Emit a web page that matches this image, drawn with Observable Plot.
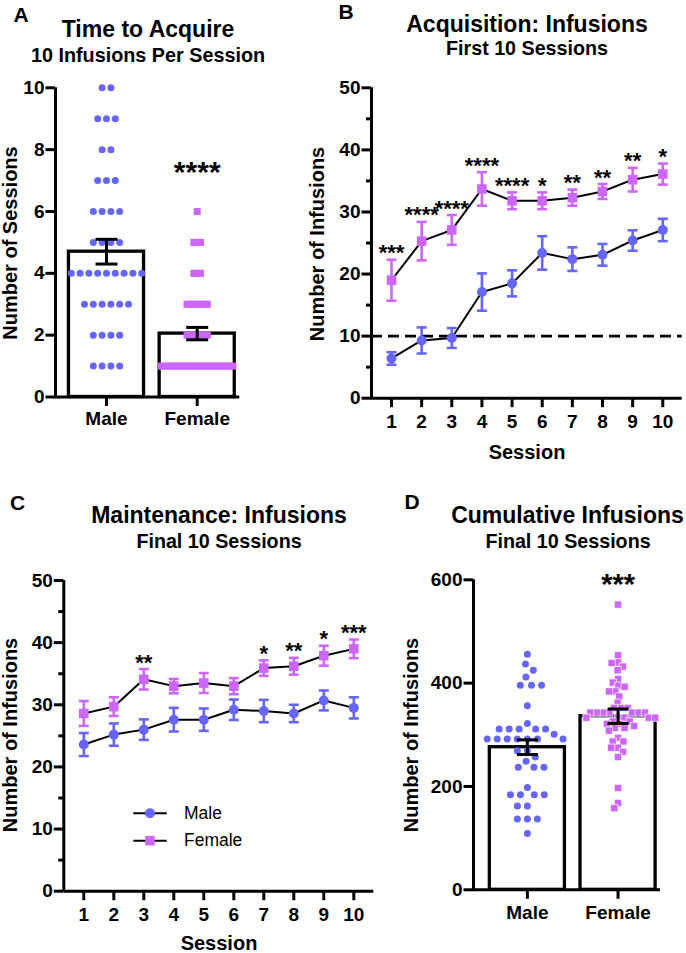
<!DOCTYPE html>
<html>
<head>
<meta charset="utf-8">
<script src="https://cdn.jsdelivr.net/npm/d3@7"></script>
<script src="https://cdn.jsdelivr.net/npm/@observablehq/plot@0.6"></script>
<style>
  html,body{margin:0;padding:0;background:#fff;}
  #root{position:relative;width:686px;height:953px;overflow:hidden;font-family:"Liberation Sans",Arial,Helvetica,sans-serif;color:#000;}
  .t{position:absolute;white-space:nowrap;line-height:1;font-weight:bold;transform:translate(-50%,-50%);}
</style>
</head>
<body>
<div id="root"></div>
<script>
// ---------------- DATA ----------------
const sexes = ["Male", "Female"];

// Panel A: sessions to acquire (10 infusions per session), individual animals
const acquireMale = [10,10, 9,9,9, 8,8, 7,7,7, 6,6,6,6, 5,5,5,5,
  4,4,4,4,4,4,4,4,4, 3,3,3,3,3,3, 2,2,2,2, 1,1,1,1];
const acquireFemale = [6, 5,5,5, 4,4,4, 3,3,3,3,3,3,3, 2,2,2,2,2,2,2,
  1,1,1,1,1,1,1,1,1,1,1,1,1,1,1,1,1,1,1,1,1,1];
const acquireMean = [4.70, 2.05];
const acquireSem = [0.40, 0.20];
const acquireSig = ["", "****"];

// Panel B: acquisition, first 10 sessions
const sessions = [1, 2, 3, 4, 5, 6, 7, 8, 9, 10];
const acqMaleMean = [6.4, 9.3, 9.7, 17.1, 18.5, 23.4, 22.4, 23.1, 25.4, 27.1];
const acqMaleSem = [1.0, 2.1, 1.6, 3.0, 2.1, 2.7, 1.9, 1.75, 1.65, 1.8];
const acqFemaleMean = [19.0, 25.3, 27.1, 33.7, 31.8, 31.8, 32.3, 33.3, 35.2, 36.1];
const acqFemaleSem = [3.3, 3.1, 2.4, 2.7, 1.35, 1.35, 1.3, 1.2, 1.9, 1.7];
const acqSig = ["***", "****", "****", "****", "****", "*", "**", "**", "**", "*"];
const acqCriterion = 10;

// Panel C: maintenance, final 10 sessions
const mntMaleMean = [23.6, 25.2, 26.0, 27.6, 27.6, 29.2, 29.0, 28.6, 30.7, 29.5];
const mntMaleSem = [1.85, 1.8, 1.65, 1.9, 1.8, 1.65, 1.8, 1.4, 1.6, 1.7];
const mntFemaleMean = [28.6, 29.7, 34.1, 33.0, 33.5, 33.0, 35.9, 36.2, 37.9, 39.0];
const mntFemaleSem = [2.0, 1.5, 1.65, 1.15, 1.6, 1.3, 1.25, 1.35, 1.6, 1.5];
const mntSig = ["", "", "**", "", "", "", "*", "**", "*", "***"];

// Panel D: cumulative infusions, final 10 sessions, individual animals
const cumMale = [456, 437, 425, 412, 396, 396, 396, 356, 322, 311, 311, 311, 311, 311,
  301, 292, 292, 292, 292, 292, 292, 292, 269, 269, 257, 249, 237, 237, 237,
  198, 184, 184, 184, 184, 162, 162, 137, 137, 137, 109];
const cumFemale = [552, 454, 440, 439, 432, 425, 408, 401, 395, 393, 384, 384, 374, 362,
  352, 352, 352, 343, 343, 343, 343, 343, 343, 343, 333, 333, 333, 333, 333,
  326, 326, 321, 321, 317, 313, 313, 308, 294, 287, 287, 275, 275, 267, 257, 197, 168, 158];
const cumMean = [276, 336];
const cumSem = [14.2, 14];
const cumSig = ["", "***"];

// ---------------- STYLE ----------------
const FONT = '"Liberation Sans", Arial, Helvetica, sans-serif';
const MALE = "#6666ff", FEMALE = "#cc66ff";
const BAR_HALF = 0.414;
const root = document.getElementById("root");
const baseStyle = {fontFamily: FONT, background: "transparent", color: "black", overflow: "visible"};

function cap(w) { return {draw(ctx) { ctx.moveTo(-w / 2, 0); ctx.lineTo(w / 2, 0); }}; }
function place(svg, left, top) {
  svg.style.position = "absolute"; svg.style.left = left + "px"; svg.style.top = top + "px";
  svg.style.maxWidth = "none";
  root.appendChild(svg);
}
function errorBars(rows, x, color, width, capW) {
  return [
    Plot.ruleX(rows, {x, y1: d => d.mean - d.sem, y2: d => d.mean + d.sem, stroke: color, strokeWidth: width}),
    Plot.dot(rows, {x, y: d => d.mean + d.sem, symbol: cap(capW), r: 2, fill: "none", stroke: color, strokeWidth: width}),
    Plot.dot(rows, {x, y: d => d.mean - d.sem, symbol: cap(capW), r: 2, fill: "none", stroke: color, strokeWidth: width})
  ];
}
function yAxis(ticks, minor) {
  const m = [Plot.axisY({ticks, tickSize: 9.5, tickPadding: 1.5, strokeWidth: 3, fontSize: 19, fontWeight: "bold", label: null})];
  if (minor) m.push(Plot.axisY({ticks: minor, tickSize: 5, tickFormat: () => "", strokeWidth: 3, label: null}));
  return m;
}
function xAxis(ticks, fmt, pad) {
  return Plot.axisX({ticks, tickFormat: fmt, tickSize: 9.5, tickPadding: pad, strokeWidth: 3, fontSize: 19, fontWeight: "bold", label: null});
}
// rows of equal values centred on the column (scatter dot plot)
function rowLayout(values, spacingPx, kx) {
  const out = [];
  for (const [v, items] of d3.group(values, d => d)) {
    items.forEach((_, j) => out.push({value: v, off: (j - (items.length - 1) / 2) * spacingPx / kx}));
  }
  return out;
}
// simple beeswarm: each point goes to the free position closest to the column centre
function swarm(values, dPx, kx, ky) {
  const order = d3.range(values.length).sort((a, b) => d3.descending(values[a], values[b]));
  const placed = [], out = [];
  for (const i of order) {
    const yi = values[i] * ky;
    const cands = [0];
    for (const p of placed) {
      const dy = Math.abs(p.y - yi);
      if (dy < dPx) { const dx = Math.sqrt(dPx * dPx - dy * dy); cands.push(p.x - dx, p.x + dx); }
    }
    cands.sort((a, b) => Math.abs(a) - Math.abs(b));
    for (const c of cands) {
      if (placed.every(p => (p.x - c) ** 2 + (p.y - yi) ** 2 >= dPx * dPx - 1e-6)) {
        placed.push({x: c, y: yi}); out.push({value: values[i], off: c / kx}); break;
      }
    }
  }
  return out;
}

// ---------------- PANEL A ----------------
{
  const W = 290, H = 450, mL = 55, mR = 50.7, mT = 87.3, mB = 53.5;
  const xDom = [0.4377, 2.4697];
  const kx = (W - mL - mR) / (xDom[1] - xDom[0]);
  const summary = sexes.map((s, i) => ({idx: i + 1, mean: acquireMean[i], sem: acquireSem[i]}));
  const male = rowLayout(acquireMale, 8.8, kx).map(d => ({...d, idx: 1}));
  const female = rowLayout(acquireFemale, 3.4, kx).map(d => ({...d, idx: 2}));
  const stars = sexes.map((s, i) => ({idx: i + 1, label: acquireSig[i], top: d3.max(i ? acquireFemale : acquireMale)})).filter(d => d.label);
  const svg = Plot.plot({
    width: W, height: H, marginLeft: mL, marginRight: mR, marginTop: mT, marginBottom: mB,
    x: {domain: xDom}, y: {domain: [0, 10]}, style: baseStyle,
    marks: [
      Plot.rect(summary, {x1: d => d.idx - BAR_HALF, x2: d => d.idx + BAR_HALF, y1: 0, y2: "mean", fill: "white", stroke: "black", strokeWidth: 3.3}),
      Plot.dot(male, {x: d => d.idx + d.off, y: "value", r: 3.5, fill: MALE}),
      Plot.dot(female, {x: d => d.idx + d.off, y: "value", r: 3.95, symbol: "square", fill: FEMALE}),
      ...errorBars(summary, "idx", "black", 3, 22),
      Plot.ruleY([0], {strokeWidth: 3}),
      Plot.ruleX([xDom[0]], {y1: 0, y2: 10, strokeWidth: 3}),
      ...yAxis([0, 2, 4, 6, 8, 10]),
      xAxis([1, 2], i => sexes[i - 1], 5),
      Plot.text(stars, {x: "idx", y: "top", text: "label", dy: -38.8, fontSize: 30, fontWeight: "bold"})
    ]
  });
  place(svg, 0, 0);
}

// ---------------- PANEL B ----------------
{
  const W = 396, H = 470, mL = 81, mR = 4.3, mT = 87.3, mB = 72.3;
  const xDom = [0.3364, 10.644];
  const male = sessions.map((s, i) => ({session: s, mean: acqMaleMean[i], sem: acqMaleSem[i]}));
  const female = sessions.map((s, i) => ({session: s, mean: acqFemaleMean[i], sem: acqFemaleSem[i], sig: acqSig[i]}));
  const svg = Plot.plot({
    width: W, height: H, marginLeft: mL, marginRight: mR, marginTop: mT, marginBottom: mB,
    x: {domain: xDom}, y: {domain: [0, 50]}, style: baseStyle,
    marks: [
      Plot.ruleY([acqCriterion], {strokeWidth: 2.6, strokeDasharray: "11,6"}),
      Plot.line(male, {x: "session", y: "mean", stroke: "black", strokeWidth: 2}),
      Plot.line(female, {x: "session", y: "mean", stroke: "black", strokeWidth: 2}),
      ...errorBars(male, "session", MALE, 2.6, 10),
      ...errorBars(female, "session", FEMALE, 2.6, 10),
      Plot.dot(male, {x: "session", y: "mean", r: 5, fill: MALE}),
      Plot.dot(female, {x: "session", y: "mean", r: 5.4, symbol: "square", fill: FEMALE}),
      Plot.text(female.filter(d => d.sig), {x: "session", y: d => d.mean + d.sem, text: "sig", dy: -6.5, fontSize: 22, fontWeight: "bold"}),
      Plot.ruleY([0], {strokeWidth: 3}),
      Plot.ruleX([xDom[0]], {y1: 0, y2: 50, strokeWidth: 3}),
      ...yAxis([0, 10, 20, 30, 40, 50], [5, 15, 25, 35, 45]),
      xAxis(sessions, d => String(d), 7)
    ]
  });
  place(svg, 290, 0);
}

// ---------------- PANEL C ----------------
{
  const W = 390, H = 483, mL = 63.3, mR = 16.7, mT = 110, mB = 62.3;
  const xDom = [0.3333, 10.6667];
  const male = sessions.map((s, i) => ({session: s, mean: mntMaleMean[i], sem: mntMaleSem[i]}));
  const female = sessions.map((s, i) => ({session: s, mean: mntFemaleMean[i], sem: mntFemaleSem[i], sig: mntSig[i]}));
  const svg = Plot.plot({
    width: W, height: H, marginLeft: mL, marginRight: mR, marginTop: mT, marginBottom: mB,
    x: {domain: xDom}, y: {domain: [0, 50]}, style: baseStyle,
    marks: [
      Plot.line(male, {x: "session", y: "mean", stroke: "black", strokeWidth: 2}),
      Plot.line(female, {x: "session", y: "mean", stroke: "black", strokeWidth: 2}),
      ...errorBars(male, "session", MALE, 2.6, 10),
      ...errorBars(female, "session", FEMALE, 2.6, 10),
      Plot.dot(male, {x: "session", y: "mean", r: 5, fill: MALE}),
      Plot.dot(female, {x: "session", y: "mean", r: 5.4, symbol: "square", fill: FEMALE}),
      Plot.text(female.filter(d => d.sig), {x: "session", y: d => d.mean + d.sem, text: "sig", dy: -6.5, fontSize: 22, fontWeight: "bold"}),
      Plot.ruleY([0], {strokeWidth: 3}),
      Plot.ruleX([xDom[0]], {y1: 0, y2: 50, strokeWidth: 3}),
      ...yAxis([0, 10, 20, 30, 40, 50], [5, 15, 25, 35, 45]),
      xAxis(sessions, d => String(d), 6.5)
    ]
  });
  place(svg, 0, 470);
}

// ---------------- PANEL D ----------------
{
  const W = 296, H = 483, mL = 83, mR = 26, mT = 109.3, mB = 63.7;
  const xDom = [0.406, 2.468];
  const kx = (W - mL - mR) / (xDom[1] - xDom[0]);
  const ky = (H - mT - mB) / 600;
  const summary = sexes.map((s, i) => ({idx: i + 1, mean: cumMean[i], sem: cumSem[i]}));
  const male = swarm(cumMale, 10, kx, ky).map(d => ({...d, idx: 1}));
  const female = swarm(cumFemale, 6.4, kx, ky).map(d => ({...d, idx: 2}));
  const stars = sexes.map((s, i) => ({idx: i + 1, label: cumSig[i], top: d3.max(i ? cumFemale : cumMale)})).filter(d => d.label);
  const svg = Plot.plot({
    width: W, height: H, marginLeft: mL, marginRight: mR, marginTop: mT, marginBottom: mB,
    x: {domain: xDom}, y: {domain: [0, 600]}, style: baseStyle,
    marks: [
      Plot.rect(summary, {x1: d => d.idx - BAR_HALF, x2: d => d.idx + BAR_HALF, y1: 0, y2: "mean", fill: "white", stroke: "black", strokeWidth: 3.3}),
      Plot.dot(male, {x: d => d.idx + d.off, y: "value", r: 3.5, fill: MALE}),
      Plot.dot(female, {x: d => d.idx + d.off, y: "value", r: 4.1, symbol: "square", fill: FEMALE, stroke: "white", strokeWidth: 0.7}),
      ...errorBars(summary, "idx", "black", 3, 21),
      Plot.ruleY([0], {strokeWidth: 3}),
      Plot.ruleX([xDom[0]], {y1: 0, y2: 600, strokeWidth: 3}),
      ...yAxis([0, 200, 400, 600]),
      xAxis([1, 2], i => sexes[i - 1], 6),
      Plot.text(stars, {x: "idx", y: "top", text: "label", dy: -19.5, fontSize: 29, fontWeight: "bold"})
    ]
  });
  place(svg, 390, 470);
}

// ---------------- LEGEND (panel C) ----------------
{
  const items = [{label: "Male", color: MALE, symbol: d3.symbolCircle, size: Math.PI * 25, y: 18.3, ty: 17.2},
                 {label: "Female", color: FEMALE, symbol: d3.symbolSquare, size: 90, y: 45.7, ty: 44.5}];
  const svg = d3.create("svg").attr("width", 160).attr("height", 60)
    .style("position", "absolute").style("left", "120px").style("top", "795px").style("overflow", "visible");
  const g = svg.selectAll("g").data(items).join("g");
  g.append("line").attr("x1", 13.3).attr("x2", 46.7).attr("y1", d => d.y).attr("y2", d => d.y).attr("stroke", "black").attr("stroke-width", 2);
  g.append("path").attr("d", d => d3.symbol(d.symbol, d.size)()).attr("transform", d => `translate(30,${d.y})`).attr("fill", d => d.color);
  g.append("text").attr("x", 64).attr("y", d => d.ty + 6.3).attr("font-family", FONT).attr("font-size", 17.5).text(d => d.label);
  root.appendChild(svg.node());
}

// ---------------- TITLES & AXIS LABELS ----------------
const labels = [
  {text: "A", x: 21, y: 13.5, size: 21},
  {text: "Time to Acquire", x: 148, y: 29, size: 23},
  {text: "10 Infusions Per Session", x: 148, y: 55.5, size: 19.8},
  {text: "Number of Sessions", x: 10, y: 242.5, size: 20, rotate: true},
  {text: "B", x: 346, y: 11, size: 21},
  {text: "Acquisition: Infusions", x: 527, y: 24.2, size: 23},
  {text: "First 10 Sessions", x: 527, y: 49.3, size: 19.7},
  {text: "Number of Infusions", x: 317, y: 243.5, size: 20, rotate: true},
  {text: "Session", x: 527, y: 451.7, size: 20},
  {text: "C", x: 17.5, y: 502, size: 21},
  {text: "Maintenance: Infusions", x: 219, y: 515.3, size: 23},
  {text: "Final 10 Sessions", x: 219, y: 541.7, size: 19.7},
  {text: "Number of Infusions", x: 10, y: 735, size: 20, rotate: true},
  {text: "Session", x: 219, y: 943, size: 20},
  {text: "D", x: 412, y: 500.5, size: 21},
  {text: "Cumulative Infusions", x: 567.5, y: 515.3, size: 23},
  {text: "Final 10 Sessions", x: 568, y: 541.7, size: 19.7},
  {text: "Number of Infusions", x: 410.5, y: 735, size: 20, rotate: true}
];
for (const l of labels) {
  const d = document.createElement("div");
  d.className = "t";
  d.textContent = l.text;
  d.style.left = l.x + "px";
  d.style.top = l.y + "px";
  d.style.fontSize = l.size + "px";
  if (l.rotate) d.style.transform = "translate(-50%,-50%) rotate(-90deg)";
  root.appendChild(d);
}
</script>
</body>
</html>
